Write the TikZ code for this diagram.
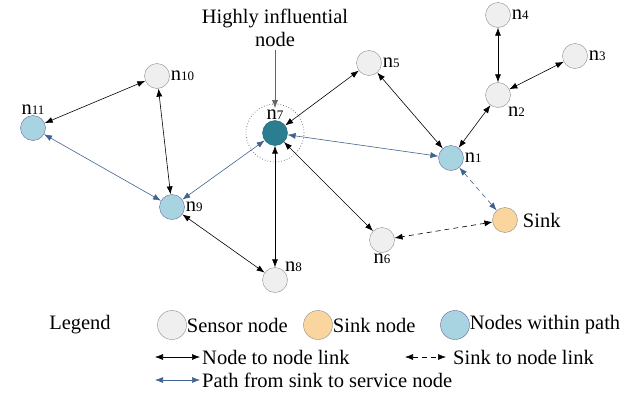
\documentclass[tikz,border=0pt]{standalone}
\usepackage{fontspec}
\setmainfont{Liberation Serif}
\usetikzlibrary{arrows.meta}
\definecolor{sensorfill}{HTML}{EFEFEF}
\definecolor{sinkfill}{HTML}{FAD59E}
\definecolor{pathfill}{HTML}{A8D4E2}
\definecolor{hubfill}{HTML}{2B7D91}
\definecolor{pathblue}{HTML}{41638F}
\newcommand{\nlab}[1]{n{\fontsize{13}{13}\selectfont #1}}
\tikzset{
  sensor/.style={circle, draw=gray!90, fill=sensorfill, minimum size=25pt, inner sep=0pt},
  sinknode/.style={sensor, fill=sinkfill},
  pathnode/.style={sensor, draw=gray!80!blue, fill=pathfill},
  hubnode/.style={sensor, draw=hubfill!80!black, fill=hubfill},
  legendnode/.style={sensor, minimum size=29pt},
  legendtext/.style={anchor=west, inner sep=0pt},
  link/.style={{Latex[length=8pt,width=6pt]}-{Latex[length=8pt,width=6pt]}, black, semithick},
  pathlink/.style={link, pathblue},
  sinklink/.style={link, dash pattern=on 5pt off 4pt},
  every label/.style={inner sep=1pt}
}
\begin{document}
\begin{tikzpicture}[x=1pt, y=-1pt, font=\fontsize{20.5}{23}\selectfont]
    \useasboundingbox (0,0) rectangle (623,394);
    % network
    \node[hubnode, label={[name=n7l]above:\nlab{7}}] (n7) at (275,133) {};
    \draw[dotted, gray, thick] (n7) circle (29pt);
    \node[sensor, label={right:\nlab{5}}] (n5) at (369,63) {};
    \node[sensor, label={right:\nlab{4}}] (n4) at (498,15) {};
    \node[sensor, label={right:\nlab{3}}] (n3) at (575,56) {};
    \node[sensor, label={[yshift=-2pt]south east:\nlab{2}}] (n2) at (498,95) {};
    \node[pathnode, label={right:\nlab{1}}] (n1) at (451,158) {};
    \node[sinknode, label={[xshift=4pt]right:Sink}] (sink) at (505,220) {};
    \node[sensor, label={below:\nlab{6}}] (n6) at (382,240) {};
    \node[sensor, label={[yshift=-2pt]north east:\nlab{8}}] (n8) at (275,280) {};
    \node[pathnode, label={right:\nlab{9}}] (n9) at (172,207) {};
    \node[sensor, label={right:\nlab{10}}] (n10) at (157,76) {};
    \node[pathnode, label={above:\nlab{11}}] (n11) at (33,128) {};
    \node[align=center] (hin) at (275,28) {Highly influential\\node};
    \draw[gray!80!black, thick, -{Latex[length=8pt,width=6pt]}] (hin.south) -- (n7l.north);
    \draw[link] (n10) -- (n11);
    \draw[link] (n10) -- (n9);
    \draw[pathlink] (n9) -- (n11);
    \draw[pathlink] (n9) -- (n7);
    \draw[link] (n9) -- (n8);
    \draw[link] (n7) -- (n8);
    \draw[link] (n7) -- (n5);
    \draw[link] (n7) -- (n6);
    \draw[pathlink] (n7) -- (n1);
    \draw[link] (n5) -- (n1);
    \draw[link] (n1) -- (n2);
    \draw[link] (n2) -- (n4);
    \draw[link] (n2) -- (n3);
    \draw[sinklink, pathblue] (n1) -- (sink);
    \draw[sinklink] (sink) -- (n6);
    % legend
    \node (leg) at (80,325) {Legend};
    \node[legendnode] (ls) at (172,325) {};
    \node[legendtext] (lst) at (ls.east) {Sensor node};
    \node[legendnode, fill=sinkfill] (lk) at (318,325) {};
    \node[legendtext] (lkt) at (lk.east) {Sink node};
    \node[legendnode, draw=gray!80!blue, fill=pathfill] (lp) at (455,325) {};
    \node[legendtext] (lpt) at (lp.east) {Nodes within path};
    \coordinate (a1) at (155,357);
    \coordinate (a2) at (200,357);
    \draw[link] (a1) -- (a2);
    \node[anchor=west, inner sep=2pt] (at) at (a2) {Node to node link};
    \coordinate (b1) at (405,357);
    \coordinate (b2) at (446,357);
    \draw[sinklink] (b1) -- (b2);
    \node[anchor=west, inner sep=7pt] (bt) at (b2) {Sink to node link};
    \coordinate (c1) at (155,380);
    \coordinate (c2) at (200,380);
    \draw[pathlink] (c1) -- (c2);
    \node[anchor=west, inner sep=2pt] (ct) at (c2) {Path from sink to service node};
\end{tikzpicture}
\end{document}
